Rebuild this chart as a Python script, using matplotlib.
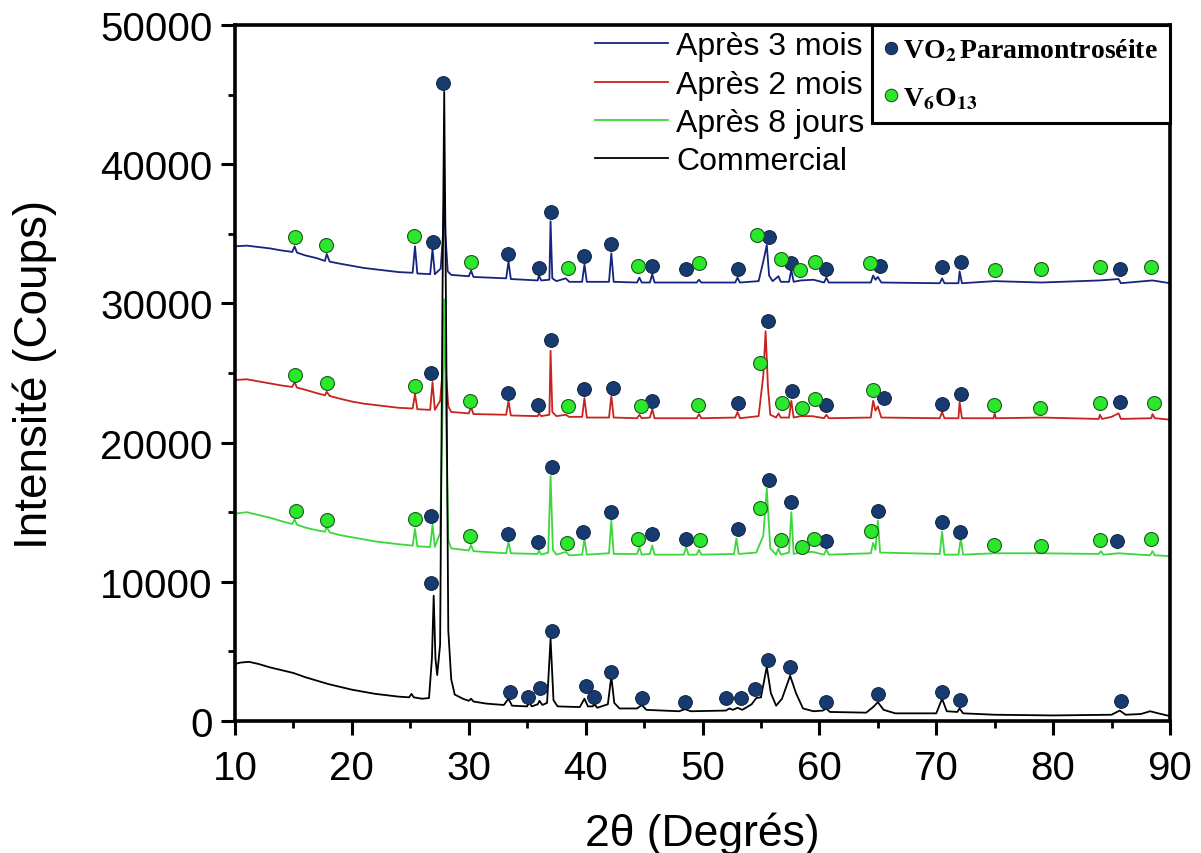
import matplotlib
matplotlib.use('Agg')
import matplotlib.pyplot as plt
from matplotlib.lines import Line2D
from matplotlib.ticker import MultipleLocator

plt.rcParams['font.family'] = ['Liberation Sans', 'DejaVu Sans']
plt.rcParams['mathtext.fontset'] = 'stix'

# ---- data (2theta in degrees, intensity in counts) ----
comm_2t = [10.0, 10.5, 11.2, 12.0, 13.0, 14.0, 15.0, 16.0, 17.0, 18.0, 19.0, 20.0,
           21.0, 22.0, 23.0, 24.0, 24.9, 25.1, 25.3, 26.0, 26.6, 26.85, 27.0, 27.15,
           27.3, 27.55, 27.75, 27.9, 28.05, 28.25, 28.5, 28.8, 29.5, 30.0, 30.2, 30.4,
           31.5, 33.0, 33.4, 33.7, 35.0, 35.15, 35.4, 35.9, 36.05, 36.3, 36.7, 37.0,
           37.25, 37.6, 39.5, 39.9, 40.2, 40.6, 40.75, 41.0, 41.9, 42.2, 42.45, 42.9,
           44.4, 44.8, 45.2, 48.0, 48.5, 49.0, 52.0, 52.3, 52.6, 53.0, 53.4, 54.2,
           54.6, 55.0, 55.5, 55.85, 56.3, 56.8, 57.5, 58.0, 58.6, 59.5, 60.3, 60.6,
           60.9, 64.0, 64.6, 65.0, 65.5, 66.5, 70.0, 70.5, 70.9, 71.8, 72.0, 72.3,
           75.0, 80.0, 85.0, 85.7, 86.2, 87.5, 88.3, 89.0, 90.0]
comm_I = [4100, 4200, 4250, 4100, 3850, 3650, 3450, 3150, 2900, 2650, 2450, 2250,
          2100, 1950, 1850, 1750, 1700, 1950, 1700, 1600, 1650, 4500, 9000, 4500,
          3300, 5500, 30000, 45200, 30000, 6500, 3000, 1900, 1600, 1450, 1600, 1400,
          1250, 1150, 1600, 1100, 1050, 1350, 1050, 1200, 1450, 1150, 1300, 5900,
          1500, 1050, 1000, 1600, 1050, 1050, 1200, 950, 1200, 3200, 1300, 900,
          900, 1150, 800, 700, 850, 700, 750, 900, 800, 950, 800, 1200,
          1650, 1700, 3900, 2000, 1100, 1600, 3250, 2000, 900, 700, 750, 900,
          650, 600, 1000, 1350, 800, 550, 550, 1600, 700, 650, 900, 550,
          450, 400, 450, 750, 450, 500, 700, 550, 350]

j8_2t = [10.0, 11.0, 12.0, 13.0, 14.0, 14.9, 15.1, 15.3, 16.0, 17.0, 17.7, 17.85,
         18.1, 19.0, 20.0, 21.0, 22.0, 23.0, 24.0, 25.2, 25.4, 25.6, 26.7, 26.9,
         27.1, 27.55, 27.75, 27.9, 28.05, 28.25, 28.5, 30.0, 30.2, 30.4, 33.2, 33.4,
         33.6, 35.9, 36.0, 36.2, 36.8, 37.0, 37.2, 37.5, 38.3, 38.6, 39.7, 39.9,
         40.1, 42.0, 42.2, 42.4, 44.4, 44.6, 44.8, 45.5, 45.7, 45.9, 48.4, 48.6,
         48.8, 49.5, 49.7, 49.9, 52.7, 52.9, 53.1, 54.6, 55.2, 55.5, 55.8, 56.3,
         56.5, 56.7, 57.4, 57.6, 57.8, 58.3, 59.4, 60.4, 60.6, 60.8, 64.4, 64.6,
         64.8, 65.0, 65.2, 70.3, 70.5, 70.7, 71.9, 72.1, 72.3, 75.0, 79.0, 83.9,
         84.1, 84.3, 85.6, 88.3, 88.5, 88.7, 90.0]
j8_I = [14900, 15000, 14800, 14600, 14350, 14150, 14500, 14100, 13900, 13700, 13600, 13950,
        13550, 13350, 13200, 13050, 12900, 12800, 12700, 12600, 13800, 12550, 12500, 14100,
        12500, 13500, 22000, 30300, 22000, 13000, 12400, 12250, 12650, 12200, 12050, 12850,
        12050, 12000, 12250, 11950, 12100, 17600, 12300, 11950, 12150, 11900, 11950, 13100,
        11950, 12050, 14400, 12000, 12000, 12500, 11950, 12000, 12600, 11950, 11950, 12500,
        11950, 11950, 12300, 11950, 12000, 13100, 12000, 12100, 13300, 16700, 12400, 11950,
        12400, 11950, 12100, 15000, 12000, 12100, 12150, 11950, 12350, 11950, 12050, 12800,
        12300, 14400, 12100, 12000, 13600, 11950, 11950, 13100, 11950, 12050, 12050, 12000,
        12200, 11950, 12050, 11900, 12200, 11900, 11850]

m2_2t = [10.0, 11.0, 12.0, 13.0, 14.0, 14.9, 15.1, 15.3, 16.0, 17.0, 17.7, 17.85,
         18.1, 19.0, 20.0, 21.0, 22.0, 23.0, 24.0, 25.2, 25.4, 25.6, 26.7, 26.9,
         27.1, 27.55, 27.75, 27.9, 28.05, 28.25, 28.5, 30.0, 30.2, 30.4, 33.2, 33.4,
         33.6, 35.9, 36.0, 36.2, 36.9, 37.0, 37.15, 37.5, 38.3, 38.6, 39.7, 39.9,
         40.1, 42.0, 42.2, 42.4, 44.4, 44.6, 44.8, 45.5, 45.7, 45.9, 49.5, 49.7,
         49.9, 52.8, 53.0, 53.2, 54.8, 55.2, 55.4, 55.6, 55.8, 56.3, 56.5, 56.7,
         57.4, 57.6, 57.8, 58.4, 59.4, 60.4, 60.6, 60.8, 64.4, 64.6, 64.8, 65.0,
         65.3, 70.3, 70.5, 70.7, 71.9, 72.0, 72.2, 74.9, 75.0, 75.1, 79.0, 83.9,
         84.0, 84.2, 85.0, 85.6, 85.8, 88.4, 88.5, 88.7, 90.0]
m2_I = [24500, 24550, 24400, 24250, 24100, 24000, 24350, 23950, 23800, 23550, 23400, 23650,
        23350, 23150, 22950, 22800, 22700, 22600, 22500, 22450, 23500, 22400, 22350, 24350,
        22350, 23000, 25000, 27100, 25000, 22600, 22200, 22100, 22550, 22050, 22000, 23000,
        21950, 21900, 22100, 21900, 22000, 26600, 22200, 21900, 22000, 21850, 21850, 23200,
        21800, 21800, 23350, 21800, 21750, 22000, 21750, 21800, 22400, 21750, 21750, 22050,
        21750, 21800, 22200, 21750, 21900, 24800, 28000, 24000, 22000, 21800, 22100, 21800,
        21800, 23000, 21800, 21900, 21900, 21750, 22000, 21750, 21800, 23000, 22300, 22600,
        21800, 21750, 22200, 21750, 21750, 22900, 21750, 21750, 22100, 21750, 21800, 21700,
        22000, 21700, 21850, 22100, 21700, 21750, 22050, 21750, 21650]

m3_2t = [10.0, 11.0, 12.0, 13.0, 14.0, 14.9, 15.1, 15.3, 16.0, 17.0, 17.7, 17.85,
         18.1, 19.0, 20.0, 21.0, 22.0, 23.0, 24.0, 25.2, 25.4, 25.6, 26.7, 26.9,
         27.1, 27.6, 27.8, 27.9, 28.0, 28.2, 28.5, 30.0, 30.2, 30.4, 33.2, 33.4,
         33.6, 35.9, 36.0, 36.2, 36.9, 37.0, 37.15, 37.5, 38.3, 38.6, 39.7, 39.9,
         40.1, 42.0, 42.2, 42.4, 44.4, 44.6, 44.8, 45.5, 45.7, 45.9, 49.5, 49.7,
         49.9, 52.8, 53.0, 53.2, 54.8, 55.2, 55.5, 55.7, 56.0, 56.5, 56.7, 57.4,
         57.6, 57.8, 58.4, 59.5, 60.4, 60.6, 60.8, 64.4, 64.6, 64.8, 65.0, 65.3,
         70.3, 70.5, 70.7, 71.9, 72.0, 72.2, 75.0, 79.0, 84.0, 85.6, 85.8, 88.5, 90.0]
m3_I = [34100, 34150, 34050, 33950, 33800, 33700, 34100, 33650, 33450, 33250, 33050, 33550,
        33000, 32850, 32700, 32550, 32450, 32350, 32250, 32200, 34100, 32150, 32100, 33900,
        32100, 32500, 35000, 38100, 35000, 32300, 32050, 31950, 32350, 31900, 31800, 33000,
        31750, 31650, 32000, 31650, 31700, 35900, 31800, 31600, 31800, 31550, 31550, 32800,
        31550, 31550, 33600, 31550, 31500, 31850, 31500, 31500, 32100, 31500, 31500, 31700,
        31500, 31500, 31850, 31500, 31600, 33000, 34200, 32000, 31600, 31950, 31550, 31550,
        32400, 31550, 31650, 31700, 31500, 31850, 31500, 31500, 32000, 31700, 31900, 31500,
        31450, 31800, 31450, 31450, 32300, 31450, 31600, 31500, 31650, 31750, 31450, 31650, 31450]

# phase markers (position, height)
vo2_2t = [26.8, 27.8, 33.5, 35.1, 36.1, 37.1, 40.0, 40.7, 42.2, 44.8, 48.5, 52.0, 53.3,
          54.5, 55.6, 57.5, 60.6, 65.0, 70.5, 72.0, 85.8,
          26.8, 33.4, 35.9, 37.1, 39.8, 42.2, 45.7, 48.55, 53.0, 55.7, 57.6, 60.6, 65.0,
          70.5, 72.0, 85.5,
          26.8, 33.4, 35.9, 37.0, 39.85, 42.3, 45.7, 53.0, 55.6, 57.7, 60.6, 65.5, 70.5,
          72.1, 85.7,
          26.9, 33.4, 36.0, 37.0, 39.9, 42.2, 45.7, 48.6, 53.0, 55.7, 57.6, 60.6, 65.2,
          70.5, 72.1, 85.7]
vo2_I = [9900, 45800, 2100, 1700, 2350, 6450, 2500, 1700, 3500, 1650, 1350, 1650, 1650,
         2300, 4400, 3900, 1400, 1950, 2100, 1500, 1450,
         14750, 13400, 12850, 18250, 13600, 15000, 13400, 13100, 13800, 17300, 15700, 12900, 15100,
         14300, 13600, 12900,
         25000, 23550, 22700, 27400, 23850, 23900, 23000, 22850, 28700, 23700, 22700, 23200, 22800,
         23500, 22900,
         34400, 33550, 32550, 36550, 33400, 34300, 32700, 32500, 32500, 34800, 32900, 32500, 32700,
         32600, 33000, 32500]

v6_2t = [15.2, 17.9, 25.4, 30.1, 38.4, 44.5, 49.8, 54.9, 56.7, 58.5, 59.5, 64.4, 74.9,
         79.0, 84.0, 88.4,
         15.1, 17.9, 25.4, 30.1, 38.5, 44.7, 49.6, 54.9, 56.8, 58.5, 59.6, 64.6, 74.9,
         78.9, 84.0, 88.6,
         15.1, 17.8, 25.3, 30.2, 38.5, 44.5, 49.7, 54.7, 56.7, 58.3, 59.6, 64.3, 75.0,
         79.0, 84.0, 88.4]
v6_I = [15100, 14450, 14500, 13300, 12800, 13100, 13000, 15300, 13000, 12500, 13100, 13650, 12650,
        12600, 13000, 13050,
        24850, 24250, 24100, 23000, 22600, 22600, 22700, 25700, 22850, 22500, 23100, 23800, 22700,
        22500, 22850, 22850,
        34800, 34200, 34850, 33000, 32550, 32700, 32900, 34900, 33200, 32400, 33000, 32900, 32400,
        32500, 32600, 32600]

c_blue = '#16237f'
c_red = '#c8231f'
c_green = '#3ad83a'
c_vo2 = '#173b70'
c_v6 = '#2ce82c'

fig = plt.figure(figsize=(12.01, 8.54), dpi=100)
ax = fig.add_axes([235 / 1201, 1 - 722 / 854, 935 / 1201, 696 / 854])

ax.plot(m3_2t, m3_I, color=c_blue, lw=1.3, label='Après 3 mois')
ax.plot(m2_2t, m2_I, color=c_red, lw=1.3, label='Après 2 mois')
ax.plot(j8_2t, j8_I, color=c_green, lw=1.3, label='Après 8 jours')
ax.plot(comm_2t, comm_I, color='black', lw=1.3, label='Commercial')

ax.plot(vo2_2t, vo2_I, 'o', ms=10, mfc=c_vo2, mec='#0a1a33', mew=0.6, zorder=5)
ax.plot(v6_2t, v6_I, 'o', ms=10, mfc=c_v6, mec='#1a5a1a', mew=0.8, zorder=5)

ax.set_xlim(10, 90)
ax.set_ylim(0, 50000)
ax.xaxis.set_major_locator(MultipleLocator(10))
ax.xaxis.set_minor_locator(MultipleLocator(5))
ax.yaxis.set_major_locator(MultipleLocator(10000))
ax.yaxis.set_minor_locator(MultipleLocator(5000))
ax.tick_params(which='major', direction='out', length=10, width=2.2, labelsize=29, pad=6)
ax.tick_params(axis='x', which='major', pad=10)
ax.tick_params(which='minor', direction='out', length=5, width=2.0)
for s in ax.spines.values():
    s.set_linewidth(2.6)

ax.set_xlabel('2θ (Degrés)', fontsize=32)
ax.set_ylabel('Intensité (Coups)', fontsize=33)
ax.xaxis.set_label_coords(0.5, -0.13)
ax.yaxis.set_label_coords(-0.19, 0.5)

leg1 = ax.legend(loc='upper left', bbox_to_anchor=(0.378, 1.0), frameon=False,
                 fontsize=23, handlelength=2.3, handletextpad=0.25,
                 labelspacing=0.26, borderpad=0.2, borderaxespad=0)
ax.add_artist(leg1)

h_vo2 = Line2D([], [], ls='none', marker='o', ms=9, mfc=c_vo2, mec='#0a1a33', mew=0.6)
h_v6 = Line2D([], [], ls='none', marker='o', ms=9, mfc=c_v6, mec='#1a5a1a', mew=0.8)
leg2 = ax.legend([h_vo2, h_v6],
                 [r'VO$_\mathbf{2}\,$Paramontroséite', r'V$_\mathbf{6}$O$_\mathbf{13}$'],
                 loc='upper right', bbox_to_anchor=(1.0, 1.0), borderaxespad=0,
                 prop={'family': 'Liberation Serif', 'weight': 'bold', 'size': 20},
                 handlelength=0.5, handletextpad=0.2, labelspacing=0.8,
                 borderpad=0.42, fancybox=False, framealpha=1, edgecolor='black')
leg2.get_frame().set_linewidth(2.2)

fig.savefig('out.png', dpi=100)
